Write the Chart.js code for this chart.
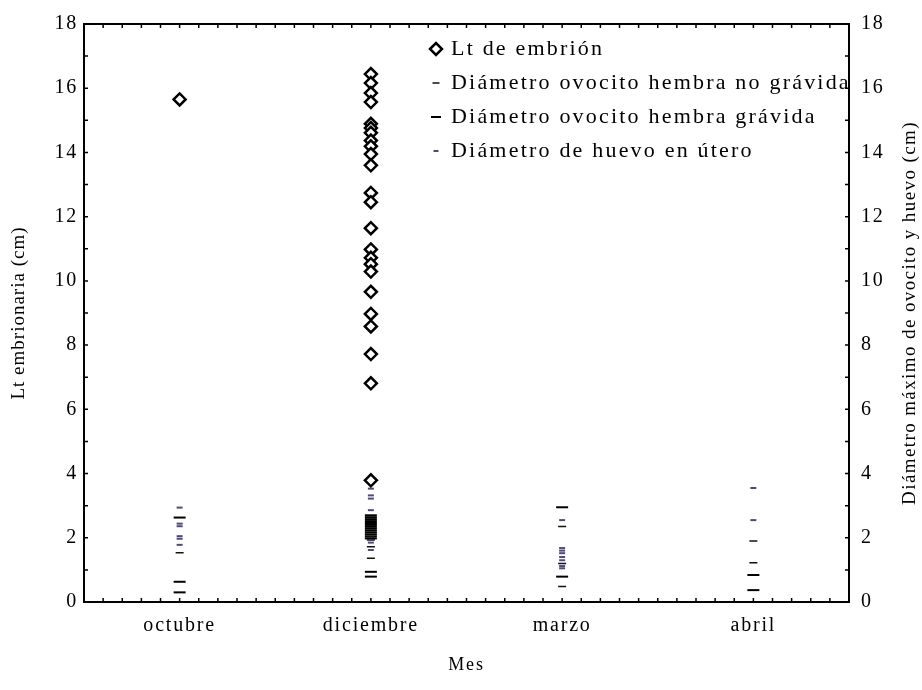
<!DOCTYPE html>
<html>
<head>
<meta charset="utf-8">
<script src="https://cdn.jsdelivr.net/npm/chart.js@4.4.1/dist/chart.umd.min.js"></script>
<style>
  body { margin: 0; background: #fff; }
  #wrap { width: 922px; height: 690px; }
</style>
</head>
<body>
<div id="wrap"><canvas id="chart" width="922" height="690"></canvas></div>
<script>
// categories
const months = ['octubre', 'diciembre', 'marzo', 'abril'];
const yTicks = [0, 2, 4, 6, 8, 10, 12, 14, 16, 18];

// one inner array per month (octubre, diciembre, marzo, abril)
const ltEmbrion = [
    [15.65],
    [16.44, 16.16, 15.85, 15.57, 14.89, 14.76, 14.61, 14.37, 14.19, 13.95, 13.60,
     12.74, 12.45, 11.64, 10.98, 10.72, 10.52, 10.29, 9.66, 8.97, 8.58, 7.72, 6.81, 3.79],
    [],
    []
];
const noGravida = [
    [1.53],
    [2.03, 1.93, 1.72, 1.36],
    [2.35, 1.20, 0.48],
    [1.90, 1.22]
];
const gravida = [
    [2.63, 0.63, 0.30],
    [2.70, 2.64, 2.58, 2.52, 2.46, 2.40, 2.34, 2.28, 2.22, 2.16, 2.10, 2.04, 1.98, 0.94, 0.79],
    [2.95, 0.79],
    [0.84, 0.37]
];
const huevoUtero = [
    [2.94, 2.44, 2.36, 2.05, 1.97, 1.78],
    [3.53, 3.32, 3.22, 2.86, 1.85, 1.62],
    [2.55, 1.68, 1.60, 1.52, 1.40, 1.30, 1.12, 1.05],
    [3.55, 2.55]
];

function toPoints(arr) {
    return arr.flatMap((vals, i) => vals.map(v => ({ x: months[i], y: v })));
}

const serif = "'Liberation Serif', 'DejaVu Serif', serif";
const spacing = '1.8px';

function drawVertical(ctx, text, x, y, font, ls) {
    ctx.save();
    ctx.font = font;
    ctx.letterSpacing = ls;
    ctx.fillStyle = '#000';
    ctx.textAlign = 'center';
    ctx.textBaseline = 'middle';
    ctx.translate(x, y);
    ctx.rotate(-Math.PI / 2);
    ctx.fillText(text, 0, 0);
    ctx.restore();
}

// ticks pointing inward, closed frame, custom legend and axis titles
const framePlugin = {
    id: 'frame',
    beforeLayout(chart) { chart.ctx.letterSpacing = spacing; },
    beforeDraw(chart) { chart.ctx.letterSpacing = spacing; },
    afterDraw(chart) {
        const ctx = chart.ctx;
        const a = chart.chartArea;
        const y = chart.scales.y;
        const x = chart.scales.x;
        ctx.save();
        ctx.strokeStyle = '#000';
        ctx.lineWidth = 2;
        ctx.strokeRect(a.left, a.top, a.right - a.left, a.bottom - a.top);

        // ticks every unit on the value axes, every tenth of a month below/above
        ctx.lineWidth = 1.5;
        ctx.beginPath();
        for (let v = 0; v <= 18; v++) {
            const py = y.getPixelForValue(v);
            ctx.moveTo(a.left, py); ctx.lineTo(a.left + 4, py);
            ctx.moveTo(a.right, py); ctx.lineTo(a.right - 4, py);
        }
        const step = (x.getPixelForValue(1) - x.getPixelForValue(0)) / 10;
        for (let px = a.left + step; px < a.right - 1; px += step) {
            ctx.moveTo(px, a.bottom); ctx.lineTo(px, a.bottom - 4);
            ctx.moveTo(px, a.top); ctx.lineTo(px, a.top + 4);
        }
        ctx.stroke();

        // legend inside the plot
        ctx.font = '22px ' + serif;
        ctx.letterSpacing = '2.2px';
        ctx.textBaseline = 'middle';
        ctx.textAlign = 'left';
        chart.data.datasets.forEach((ds, i) => {
            const ly = a.top + 25 + i * 34;
            ctx.fillStyle = ds.backgroundColor;
            ctx.strokeStyle = ds.borderColor;
            ctx.lineWidth = ds.borderWidth;
            Chart.helpers.drawPoint(ctx, {
                pointStyle: ds.pointStyle, rotation: 0,
                radius: ds.legendRadius, borderWidth: ds.borderWidth
            }, 436, ly);
            ctx.fillStyle = '#000';
            ctx.fillText(ds.label, 451, ly);
        });
        ctx.restore();

        const mid = (a.top + a.bottom) / 2;
        drawVertical(ctx, 'Lt embrionaria (cm)', 19, mid, '19px ' + serif, '1px');
        drawVertical(ctx, 'Diámetro máximo de ovocito y huevo (cm)', 910, mid, '19px ' + serif, '1.4px');
    }
};

const ctx = document.getElementById('chart').getContext('2d');
new Chart(ctx, {
    type: 'line',
    data: {
        labels: months,
        datasets: [
            {
                label: 'Lt de embrión',
                data: toPoints(ltEmbrion),
                yAxisID: 'y',
                showLine: false,
                pointStyle: 'rectRot',
                pointRadius: 6,
                legendRadius: 6,
                borderWidth: 2.5,
                borderColor: '#000',
                backgroundColor: '#fff'
            },
            {
                label: 'Diámetro ovocito hembra no grávida',
                data: toPoints(noGravida),
                yAxisID: 'y2',
                showLine: false,
                pointStyle: 'line',
                pointRadius: 4,
                legendRadius: 3.5,
                borderWidth: 1.5,
                borderColor: '#111',
                backgroundColor: '#111'
            },
            {
                label: 'Diámetro ovocito hembra grávida',
                data: toPoints(gravida),
                yAxisID: 'y2',
                showLine: false,
                pointStyle: 'line',
                pointRadius: 6,
                legendRadius: 5,
                borderWidth: 2,
                borderColor: '#000',
                backgroundColor: '#000'
            },
            {
                label: 'Diámetro de huevo en útero',
                data: toPoints(huevoUtero),
                yAxisID: 'y2',
                showLine: false,
                pointStyle: 'line',
                pointRadius: 3,
                legendRadius: 2.5,
                borderWidth: 2,
                borderColor: '#54487a',
                backgroundColor: '#54487a'
            }
        ]
    },
    options: {
        responsive: false,
        animation: false,
        layout: { padding: { top: 22, left: 0, right: 0, bottom: 0 } },
        plugins: {
            legend: { display: false },
            tooltip: { enabled: false }
        },
        scales: {
            x: {
                type: 'category',
                offset: true,
                grid: { display: false, drawTicks: false },
                border: { display: false },
                ticks: { color: '#000', padding: 12, font: { family: serif, size: 20 } },
                title: { display: true, text: 'Mes', color: '#000', padding: { bottom: 14 },
                         font: { family: serif, size: 18 } },
                afterFit(s) { s.height = 88; }
            },
            y: {
                position: 'left',
                min: 0, max: 18,
                grid: { display: false, drawTicks: false },
                border: { display: false },
                afterBuildTicks(s) { s.ticks = yTicks.map(v => ({ value: v })); },
                ticks: { color: '#000', padding: 6, font: { family: serif, size: 20 } },
                afterFit(s) { s.width = 84; }
            },
            y2: {
                position: 'right',
                min: 0, max: 18,
                grid: { display: false, drawTicks: false },
                border: { display: false },
                afterBuildTicks(s) { s.ticks = yTicks.map(v => ({ value: v })); },
                ticks: { color: '#000', padding: 12, font: { family: serif, size: 20 } },
                afterFit(s) { s.width = 73; }
            }
        }
    },
    plugins: [framePlugin]
});
</script>
</body>
</html>
